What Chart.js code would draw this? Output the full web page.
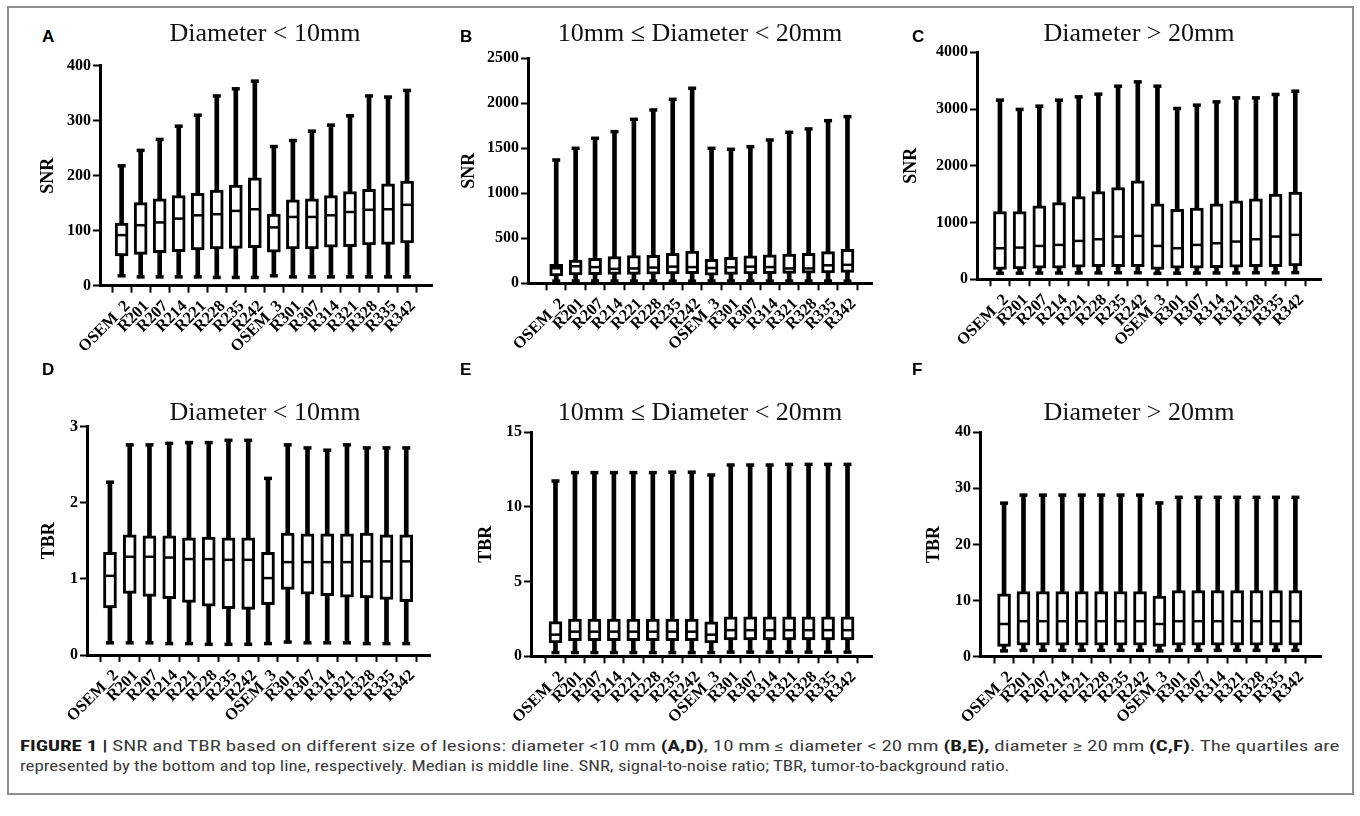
<!DOCTYPE html>
<html>
<head>
<meta charset="utf-8">
<script src="https://cdn.jsdelivr.net/npm/chart.js@4.4.1/dist/chart.umd.min.js"></script>
<style>
    html, body { margin: 0; padding: 0; background: #fff; }
    body { width: 1360px; height: 816px; position: relative; overflow: hidden; }
    #frame { position: absolute; left: 7px; top: 6px; width: 1347px; height: 789px; border: 2px solid #8e8e8e; box-sizing: border-box; }
    canvas { position: absolute; }
    .ttl { position: absolute; font-family: 'Liberation Serif', 'Times New Roman', serif; font-size: 26px; color: #111;
           white-space: nowrap; transform: translateX(-50%); line-height: 1; z-index: 2; }
    .lt { position: absolute; font-family: 'Liberation Sans', Arial, sans-serif; font-weight: bold; font-size: 17px;
          color: #000; line-height: 1; z-index: 2; }
    .cap { position: absolute; left: 20px; font-family: 'Liberation Sans Narrow', 'Roboto Condensed', 'Liberation Sans', sans-serif;
           font-size: 14.5px; color: #3c3c3c; white-space: nowrap; transform-origin: 0 0; line-height: 1; }
    .cap b { color: #1a1a1a; }
</style>
</head>
<body>
<div id="frame"></div>

<div class="lt" style="left:42px;top:28px">A</div>
<div class="lt" style="left:460px;top:28px">B</div>
<div class="lt" style="left:912px;top:28px">C</div>
<div class="lt" style="left:42px;top:361px">D</div>
<div class="lt" style="left:460px;top:361px">E</div>
<div class="lt" style="left:912px;top:361px">F</div>

<div class="ttl" style="left:265px;top:20px">Diameter &lt; 10mm</div>
<div class="ttl" style="left:700px;top:20px">10mm ≤ Diameter &lt; 20mm</div>
<div class="ttl" style="left:1139px;top:20px">Diameter &gt; 20mm</div>
<div class="ttl" style="left:265px;top:399px">Diameter &lt; 10mm</div>
<div class="ttl" style="left:700px;top:399px">10mm ≤ Diameter &lt; 20mm</div>
<div class="ttl" style="left:1139px;top:399px">Diameter &gt; 20mm</div>

<canvas id="pA"></canvas>
<canvas id="pB"></canvas>
<canvas id="pC"></canvas>
<canvas id="pD"></canvas>
<canvas id="pE"></canvas>
<canvas id="pF"></canvas>

<div class="cap" id="cap1" style="top:740px"><b>FIGURE 1 |</b> SNR and TBR based on different size of lesions: diameter &lt;10 mm <b>(A,D)</b>, 10 mm ≤ diameter &lt; 20 mm <b>(B,E),</b> diameter ≥ 20 mm <b>(C,F)</b>. The quartiles are</div>
<div class="cap" id="cap2" style="top:760px">represented by the bottom and top line, respectively. Median is middle line. SNR, signal-to-noise ratio; TBR, tumor-to-background ratio.</div>

<script>
// catégories (axe x commun aux 6 panneaux)
const CATS = ['OSEM_2','R201','R207','R214','R221','R228','R235','R242',
              'OSEM_3','R301','R307','R314','R321','R328','R335','R342'];

// A — SNR, diamètre < 10mm
const A_MIN = [18,16,16,16,16,15,15,15,18,16,16,16,16,16,16,16];
const A_Q1  = [54,57,60,62,65,67,68,69,61,67,67,70,71,74,75,78];
const A_MED = [92,110,115,122,128,130,136,139,106,125,125,128,134,138,139,147];
const A_Q3  = [114,151,158,164,168,174,183,196,130,156,158,164,171,175,185,190];
const A_MAX = [218,246,266,290,310,345,358,372,253,264,281,292,309,345,343,355];

// B — SNR, 10mm <= diamètre < 20mm
const B_MIN = [25,26,26,25,25,25,24,24,26,26,26,25,25,25,25,24];
const B_Q1  = [81,93,95,98,100,102,105,108,90,100,103,106,110,112,115,120];
const B_MED = [167,190,180,160,165,175,185,180,170,178,185,180,165,165,200,205];
const B_Q3  = [211,259,278,296,307,311,333,359,267,289,304,315,326,333,352,378];
const B_MAX = [1370,1500,1611,1685,1822,1926,2044,2167,1500,1489,1518,1592,1678,1715,1807,1852];

// C — SNR, diamètre > 20mm
const C_MIN = [105,108,110,110,112,112,115,115,105,108,110,112,112,115,115,118];
const C_Q1  = [176,182,194,194,212,224,224,224,176,194,194,206,212,224,224,235];
const C_MED = [547,559,588,606,676,706,753,765,588,547,606,635,665,706,753,782];
const C_Q3  = [1194,1194,1294,1353,1459,1547,1618,1735,1329,1235,1253,1329,1382,1418,1500,1535];
const C_MAX = [3157,2993,3051,3157,3215,3262,3403,3479,3403,3010,3069,3127,3197,3197,3257,3315];

// D — TBR, diamètre < 10mm
const D_MIN = [0.16,0.16,0.16,0.15,0.15,0.14,0.14,0.14,0.15,0.17,0.16,0.16,0.16,0.15,0.15,0.15];
const D_Q1  = [0.62,0.81,0.77,0.74,0.69,0.64,0.61,0.60,0.66,0.86,0.80,0.78,0.76,0.75,0.73,0.70];
const D_MED = [1.04,1.29,1.29,1.28,1.26,1.26,1.25,1.25,1.01,1.22,1.22,1.22,1.22,1.23,1.23,1.23];
const D_Q3  = [1.35,1.58,1.565,1.565,1.54,1.55,1.54,1.54,1.35,1.60,1.59,1.59,1.59,1.60,1.58,1.58];
const D_MAX = [2.27,2.76,2.76,2.78,2.79,2.79,2.82,2.82,2.32,2.76,2.72,2.69,2.76,2.72,2.72,2.72];

// E — TBR, 10mm <= diamètre < 20mm
const E_MIN = [0.25,0.25,0.25,0.25,0.25,0.25,0.25,0.25,0.25,0.28,0.28,0.28,0.28,0.28,0.28,0.28];
const E_Q1  = [0.90,1.05,1.05,1.05,1.05,1.05,1.05,1.05,0.90,1.10,1.10,1.10,1.10,1.10,1.10,1.10];
const E_MED = [1.45,1.65,1.65,1.65,1.65,1.65,1.65,1.65,1.45,1.75,1.75,1.75,1.75,1.75,1.75,1.75];
const E_Q3  = [2.32,2.50,2.50,2.50,2.50,2.50,2.50,2.50,2.30,2.65,2.65,2.65,2.65,2.65,2.65,2.65];
const E_MAX = [11.74,12.30,12.30,12.30,12.30,12.30,12.33,12.33,12.14,12.81,12.81,12.81,12.85,12.85,12.85,12.85];

// F — TBR, diamètre > 20mm
const F_MIN = [1.0,1.1,1.1,1.1,1.1,1.1,1.1,1.1,1.0,1.1,1.1,1.1,1.1,1.1,1.1,1.1];
const F_Q1  = [1.8,2.0,2.0,2.0,2.0,2.0,2.0,2.0,1.8,2.0,2.0,2.0,2.0,2.0,2.0,2.0];
const F_MED = [5.8,6.3,6.3,6.3,6.3,6.3,6.3,6.3,5.8,6.3,6.3,6.3,6.3,6.3,6.3,6.3];
const F_Q3  = [11.16,11.57,11.57,11.57,11.57,11.57,11.57,11.57,10.8,11.75,11.75,11.75,11.75,11.75,11.75,11.75];
const F_MAX = [27.36,28.8,28.8,28.8,28.8,28.8,28.8,28.8,27.4,28.4,28.4,28.4,28.4,28.4,28.4,28.4];

const SERIF = "'Liberation Serif', 'Times New Roman', serif";

/* boîte à moustaches = médiane + caps (points 'line'), boîte et moustache (barres flottantes) */
function boxSets(mn, q1, md, q3, mx) {
    const pts = arr => arr.map((v, i) => ({ x: i, y: v }));
    const span = (lo, hi) => lo.map((v, i) => ({ x: i, y: [v, hi[i]] }));
    const pointBase = {
        type: 'line', showLine: false, pointStyle: 'line', clip: false,
        borderColor: '#000', pointBorderColor: '#000', pointBackgroundColor: '#000',
    };
    return [
        { ...pointBase, data: pts(md), pointRadius: 5, pointBorderWidth: 2.5, order: 0 },
        { ...pointBase, data: pts(mn).concat(pts(mx)), pointRadius: 4, pointBorderWidth: 3.5, order: 1 },
        { type: 'bar', data: span(q1, q3), backgroundColor: '#fff', borderColor: '#000',
          borderWidth: 3, borderSkipped: false, barThickness: 13, grouped: false, order: 2 },
        { type: 'bar', data: span(mn, mx), backgroundColor: '#000', borderWidth: 0,
          barThickness: 4, grouped: false, order: 3 },
    ];
}

function panel(id, g, yMax, yStep, yTitle, sets) {
    const cv = document.getElementById(id);
    const w = g.cr - g.cl, h = g.cb - g.ct;
    cv.width = w; cv.height = h;
    Object.assign(cv.style, { left: g.cl + 'px', top: g.ct + 'px', width: w + 'px', height: h + 'px' });

    new Chart(cv, {
        type: 'bar',
        data: { datasets: boxSets(...sets) },
        options: {
            responsive: false,
            animation: false,
            layout: { padding: { left: 0, top: g.top - g.ct, right: g.cr - g.right, bottom: 0 } },
            plugins: { legend: { display: false }, tooltip: { enabled: false } },
            scales: {
                x: {
                    type: 'linear', min: g.xMin, max: g.xMax,
                    afterBuildTicks: s => { s.ticks = CATS.map((_, i) => ({ value: i })); },
                    afterFit: s => { s.height = g.cb - g.bottom; s.paddingLeft = 0; s.paddingRight = 0; },
                    ticks: {
                        callback: (v, i) => CATS[i], autoSkip: false, minRotation: 45, maxRotation: 45,
                        labelOffset: 6,
                        font: { family: SERIF, size: 16.5, weight: 'bold' }, color: '#000', padding: 4,
                    },
                    grid: { drawOnChartArea: false, tickLength: 7, tickWidth: 2, color: '#000' },
                    border: { color: '#000', width: 3 },
                },
                y: {
                    min: 0, max: yMax,
                    afterFit: s => { s.width = g.left - g.cl; },
                    ticks: { stepSize: yStep, callback: v => String(v),
                             font: { family: SERIF, size: 16, weight: 'bold' }, color: '#000', padding: 2 },
                    grid: { drawOnChartArea: false, tickLength: 7, tickWidth: 2, color: '#000' },
                    border: { color: '#000', width: 3 },
                    title: { display: true, text: yTitle, color: '#000', padding: 0,
                             font: { family: SERIF, size: 18, weight: 'bold' } },
                },
            },
        },
    });
}

panel('pA', { cl: 38, ct: 50, cr: 440, cb: 395, left: 100, top: 65.7, bottom: 285.7, right: 433, xMin: -0.59, xMax: 15.79 },
      400, 100, 'SNR', [A_MIN, A_Q1, A_MED, A_Q3, A_MAX]);
panel('pB', { cl: 459, ct: 45, cr: 880, cb: 395, left: 528, top: 58.3, bottom: 283.3, right: 872, xMin: -0.9, xMax: 15.71 },
      2500, 500, 'SNR', [B_MIN, B_Q1, B_MED, B_Q3, B_MAX]);
panel('pC', { cl: 901, ct: 40, cr: 1330, cb: 395, left: 977, top: 52.3, bottom: 279.3, right: 1321, xMin: -0.62, xMax: 15.76 },
      4000, 1000, 'SNR', [C_MIN, C_Q1, C_MED, C_Q3, C_MAX]);
panel('pD', { cl: 39, ct: 415, cr: 440, cb: 738, left: 87, top: 425.7, bottom: 655, right: 430, xMin: -0.62, xMax: 15.66 },
      3, 1, 'TBR', [D_MIN, D_Q1, D_MED, D_Q3, D_MAX]);
panel('pE', { cl: 476, ct: 420, cr: 880, cb: 738, left: 531, top: 432.3, bottom: 656.3, right: 872, xMin: -0.71, xMax: 15.71 },
      15, 5, 'TBR', [E_MIN, E_Q1, E_MED, E_Q3, E_MAX]);
panel('pF', { cl: 924, ct: 420, cr: 1330, cb: 738, left: 980, top: 432.3, bottom: 656.5, right: 1321, xMin: -0.69, xMax: 15.77 },
      40, 10, 'TBR', [F_MIN, F_Q1, F_MED, F_Q3, F_MAX]);

// légende : largeur des deux lignes calée sur la figure
const c1 = document.getElementById('cap1'), c2 = document.getElementById('cap2');
c1.style.transform = `scaleX(${1320 / c1.offsetWidth})`;
c2.style.transform = `scaleX(${990 / c2.offsetWidth})`;
</script>
</body>
</html>
